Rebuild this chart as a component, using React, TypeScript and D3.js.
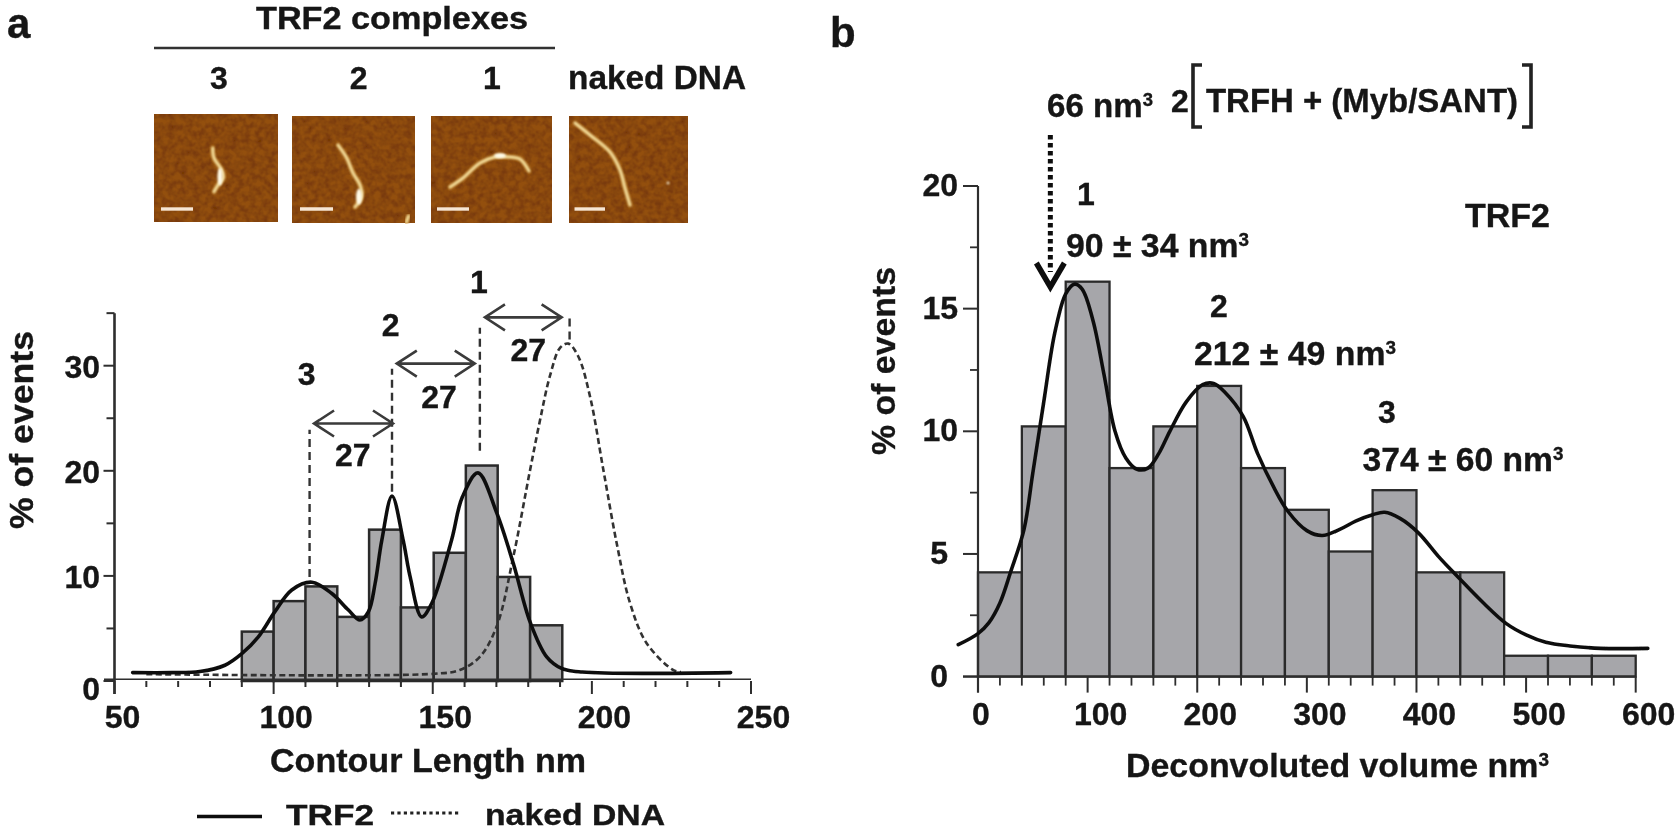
import React from "react";
import * as d3 from "d3";

// ---------- panel a data ----------
const aBinEdges = [60, 70, 80, 90, 100, 110, 120, 130, 140, 150.3, 160.4, 170.4, 180.6, 190.7, 200, 210, 220, 230, 240];
const aBinValues = [0, 0, 0, 4.7, 7.6, 9, 6.1, 14.4, 7, 12.2, 20.5, 9.9, 5.3, 0, 0, 0, 0, 0];
const aTrf2Curve: [number, number][] = [
  [55.7, 0.8], [68, 0.8], [76.8, 0.9], [84.7, 1.5], [90, 2.6], [95.2, 4.2], [100.4, 6.6], [105.7, 8.66], [112, 9.4],
  [118.2, 8.35], [123.5, 6.75], [127.1, 5.8], [129.8, 6.6], [131.9, 9.3], [134, 13.4], [137.2, 17.6], [140.7, 13.4],
  [142.9, 9.9], [146.5, 6.1], [149.7, 7.4], [155.9, 13.4], [159.3, 17.5], [164.2, 19.8], [170.1, 16], [175.3, 11.2],
  [180.6, 5.6], [185.8, 2.3], [190.5, 1.2], [197, 0.85], [243.6, 0.8],
];
const aNakedCurve: [number, number][] = [
  [60, 0.65], [150, 0.68], [158.5, 1.05], [164.8, 2.3], [170.1, 5.2], [175.3, 11.8], [180.6, 20.1], [183.7, 24.8],
  [186.8, 29], [190, 31.7], [192.6, 32.1], [195.7, 30.9], [199.4, 27.1], [203.6, 20.1], [207.8, 13.1], [212, 7.4],
  [217.2, 3.6], [225.5, 1.05], [228, 0.85],
];
const aXMajor = [50, 100, 150, 200, 250];
const aXMinor = [60, 70, 80, 90, 110, 120, 130, 140, 160, 170, 180, 190, 210, 220, 230, 240];
const aYMajor = [0, 10, 20, 30];
const aYMinor = [5, 15, 25, 35];
const aDrops: [number, number, number][] = [[111.3, 9.9, 23.9], [137.2, 18, 29.7], [164.8, 21.9, 33.6], [193, 32.5, 34.6]];
const aSpans: [number, number, number][] = [[112.7, 137.5, 24.5], [138.7, 163.2, 30.2], [166.4, 190.5, 34.6]];
const aSpanLabels: [number, number][] = [[124.9, 20.5], [152, 26], [180, 30.4]];
const aPeakLabels: [string, number, number][] = [["3", 110.4, 28.2], ["2", 136.8, 32.8], ["1", 164.5, 36.9]];

// ---------- panel b data ----------
const bBinEdges = [0, 40, 80, 120, 160, 200, 240, 280, 320, 360, 400, 440, 480, 520, 560, 600];
const bBinValues = [4.25, 10.2, 16.1, 8.5, 10.2, 11.85, 8.5, 6.8, 5.1, 7.6, 4.25, 4.25, 0.85, 0.85, 0.85];
const bCurve: [number, number][] = [
  [-18, 1.3], [0, 1.75], [10, 2.2], [20, 3], [30, 4.3], [42, 6], [50, 8.3], [60, 11.2], [70, 14], [80, 15.6], [88, 16],
  [95, 15.8], [105, 14.5], [115, 12.3], [125, 10], [135, 8.9], [145, 8.45], [155, 8.5], [165, 9.1], [175, 10], [190, 11.2],
  [205, 11.9], [215, 11.95], [225, 11.6], [242, 10.6], [255, 9.1], [270, 7.7], [282.5, 6.75], [300, 5.95], [314, 5.75], [330, 6],
  [345, 6.35], [360, 6.6], [371, 6.7], [385, 6.45], [402, 5.85], [420, 4.9], [437, 4.1], [460, 3.05], [482, 2.16],
  [500, 1.7], [518, 1.4], [540, 1.25], [568, 1.15], [611, 1.15],
];
const bXMajor = [0, 100, 200, 300, 400, 500, 600];
const bXMinor = [20, 40, 60, 80, 120, 140, 160, 180, 220, 240, 260, 280, 320, 340, 360, 380, 420, 440, 460, 480, 520, 540, 560, 580];
const bYMajor = [0, 5, 10, 15, 20];
const bYMinor = [2.5, 7.5, 12.5, 17.5];

// ---------- AFM thumbnails ----------
const thumbBoxes = [[154, 114, 124, 108], [292, 116, 123, 107], [431, 116, 121, 107], [569, 116, 119, 107]];
const thumbBars = [[161, 193], [300, 333], [437, 469], [574.5, 605]];
const strands: [number, number][][] = [
  [[212.7, 148], [214, 158], [221.7, 170], [223.3, 178], [218, 185], [214, 191.7]],
  [[338, 145], [346.7, 158], [353, 173], [360, 185], [361.7, 196.7], [355, 207]],
  [[450, 187], [463, 178], [480, 163], [495, 157], [510, 157], [520, 159], [529, 171]],
  [[575, 123], [590, 135], [610, 152], [620, 170], [625, 188], [630, 205]],
  [[408.5, 216], [406.5, 222]],
];
const blobs = [[220, 176.7, 2.6, 9], [359, 196.7, 3, 8], [500, 155.7, 6, 2.6], [668, 183, 1.3, 1.3]];

const xA = d3.scaleLinear().domain([50, 250]).range([114.5, 751]);
const yA = d3.scaleLinear().domain([0, 30]).range([681, 365.7]);
const xB = d3.scaleLinear().domain([0, 600]).range([978, 1635.7]);
const yB = d3.scaleLinear().domain([0, 20]).range([676.6, 186]);

const lineA = d3.line<[number, number]>().x((d) => xA(d[0])).y((d) => yA(d[1])).curve(d3.curveCatmullRom.alpha(0.5));
const lineB = d3.line<[number, number]>().x((d) => xB(d[0])).y((d) => yB(d[1])).curve(d3.curveCatmullRom.alpha(0.5));
const strandLine = d3.line().curve(d3.curveCatmullRom.alpha(0.5));

const INK = "#141414";
const AXIS = "#2e2e2e";
const FONT = "'Liberation Sans', Arial, sans-serif";

function T(p: { x: number; y: number; s?: number; a?: string; w?: number; children: any; rot?: number }) {
  const { x, y, a = "middle", w, children, rot } = p;
  const s = p.s ?? (w ? 34 : 32);
  return (
    <text
      x={x}
      y={y}
      fontSize={s}
      fontWeight={700}
      fontFamily={FONT}
      fill={INK}
      stroke={INK}
      strokeWidth={0.35}
      textAnchor={a}
      textLength={w}
      lengthAdjust={w ? "spacingAndGlyphs" : undefined}
      transform={rot ? `rotate(${rot} ${x} ${y})` : undefined}
    >
      {children}
    </text>
  );
}

function Sup({ children }: { children: string }) {
  return (
    <tspan fontSize={19} dy={-11}>
      {children}
    </tspan>
  );
}

function DoubleArrow({ x1, x2, y }: { x1: number; x2: number; y: number }) {
  const h = 13;
  const d = 20;
  return (
    <path
      d={`M${x1},${y}H${x2}M${x1 + d},${y - h}L${x1},${y}L${x1 + d},${y + h}M${x2 - d},${y - h}L${x2},${y}L${x2 - d},${y + h}`}
      fill="none"
      stroke="#3a3a3a"
      strokeWidth={2.6}
    />
  );
}

export default function App() {
  return (
    <svg
      width={1677}
      height={831}
      viewBox="0 0 1677 831"
      style={{ position: "fixed", left: 0, top: 0, display: "block", background: "#fff" }}
    >
      <defs>
        <filter id="soft" x="0" y="0" width="1677" height="831" filterUnits="userSpaceOnUse">
          <feGaussianBlur stdDeviation="0.6" />
        </filter>
        <filter id="afm" x="0%" y="0%" width="100%" height="100%" colorInterpolationFilters="sRGB">
          <feTurbulence type="fractalNoise" baseFrequency="0.16" numOctaves="2" seed="7" result="n" />
          <feColorMatrix in="n" type="matrix" values="0 0 0 0 0.38  0 0 0 0 0.15  0 0 0 0 0  1.1 0 0 0 -0.35" result="dark" />
          <feComposite in="dark" in2="SourceGraphic" operator="in" result="clip" />
          <feMerge>
            <feMergeNode in="SourceGraphic" />
            <feMergeNode in="clip" />
          </feMerge>
        </filter>
        <filter id="glow" x="-30%" y="-30%" width="160%" height="160%">
          <feGaussianBlur stdDeviation="0.9" />
        </filter>
      </defs>

      <g filter="url(#soft)">
        {/* panel letters */}
        <T x={7} y={38} s={42} a="start">a</T>
        <T x={830} y={47} s={42} a="start">b</T>

        {/* thumbnails header */}
        <T x={392} y={29} s={31} w={272}>TRF2 complexes</T>
        <line x1={154} x2={555} y1={48} y2={48} stroke="#333" strokeWidth={2.5} />
        <T x={219} y={89}>3</T>
        <T x={358.7} y={89}>2</T>
        <T x={492} y={89}>1</T>
        <T x={657} y={89} w={178}>naked DNA</T>

        {thumbBoxes.map((b, i) => (
          <rect key={i} x={b[0]} y={b[1]} width={b[2]} height={b[3]} fill="#93500f" filter="url(#afm)" />
        ))}
        {strands.map((s, i) => (
          <g key={i} filter="url(#glow)">
            <path d={strandLine(s) as string} fill="none" stroke="#c98a2a" strokeWidth={4.6} strokeLinecap="round" />
            <path d={strandLine(s) as string} fill="none" stroke="#f5e2a0" strokeWidth={2.4} strokeLinecap="round" />
          </g>
        ))}
        {blobs.map((b, i) => (
          <ellipse key={i} cx={b[0]} cy={b[1]} rx={b[2]} ry={b[3]} fill="#fffbe8" filter="url(#glow)" />
        ))}
        {thumbBars.map((b, i) => (
          <line key={i} x1={b[0]} x2={b[1]} y1={209} y2={209} stroke="#f6e6d4" strokeWidth={3.4} />
        ))}

        {/* ---------- panel a ---------- */}
        {aBinValues.map((v, i) => (
          <rect
            key={i}
            x={xA(aBinEdges[i])}
            y={yA(v)}
            width={xA(aBinEdges[i + 1]) - xA(aBinEdges[i])}
            height={yA(0) - yA(v)}
            fill="#a9a9ab"
            stroke="#2a2a2a"
            strokeWidth={2.5}
          />
        ))}
        <line x1={104} x2={xA(250)} y1={yA(0) - 1.7} y2={yA(0) - 1.7} stroke={AXIS} strokeWidth={1.6} />
        <line x1={xA(50)} x2={xA(50)} y1={yA(35)} y2={yA(0) + 13} stroke={AXIS} strokeWidth={2.6} />
        {aYMajor.map((v) => (
          <g key={v}>
            <line x1={xA(50) - 11} x2={xA(50)} y1={yA(v)} y2={yA(v)} stroke={AXIS} strokeWidth={2} />
            <T x={100} y={yA(v) + (v === 0 ? 19 : 12.5)} a="end">{v}</T>
          </g>
        ))}
        {aYMinor.map((v) => (
          <line key={v} x1={xA(50) - 8} x2={xA(50)} y1={yA(v)} y2={yA(v)} stroke={AXIS} strokeWidth={2} />
        ))}
        {aXMajor.map((v) => (
          <g key={v}>
            <line x1={xA(v)} x2={xA(v)} y1={yA(0)} y2={yA(0) + 13} stroke={AXIS} strokeWidth={2} />
            <T x={xA(v) + (v === 50 ? 8 : 12.5)} y={728}>{v}</T>
          </g>
        ))}
        {aXMinor.map((v) => (
          <line key={v} x1={xA(v)} x2={xA(v)} y1={yA(0)} y2={yA(0) + 6} stroke={AXIS} strokeWidth={2} />
        ))}
        <path d={lineA(aNakedCurve) as string} fill="none" stroke="#333" strokeWidth={2.6} strokeDasharray="6 3.5" />
        <path d={lineA(aTrf2Curve) as string} fill="none" stroke="#111" strokeWidth={3.6} strokeLinecap="round" />
        {aDrops.map((d, i) => (
          <line key={i} x1={xA(d[0])} x2={xA(d[0])} y1={yA(d[1])} y2={yA(d[2])} stroke="#333" strokeWidth={2.4} strokeDasharray="8 5" />
        ))}
        {aSpans.map((d, i) => (
          <DoubleArrow key={i} x1={xA(d[0])} x2={xA(d[1])} y={yA(d[2])} />
        ))}
        {aSpanLabels.map((d, i) => (
          <T key={i} x={xA(d[0])} y={yA(d[1])}>27</T>
        ))}
        {aPeakLabels.map((d) => (
          <T key={d[0]} x={xA(d[1])} y={yA(d[2])}>{d[0]}</T>
        ))}
        <T x={33} y={430} rot={-90} w={198}>% of events</T>
        <T x={428} y={772} w={316}>Contour Length nm</T>

        {/* legend */}
        <line x1={197} x2={262} y1={816.5} y2={816.5} stroke="#111" strokeWidth={3.6} />
        <T x={286} y={824.5} s={29} a="start" w={88}>TRF2</T>
        <line x1={391} x2={460} y1={813} y2={813} stroke="#222" strokeWidth={3.2} strokeDasharray="3.2 3.2" />
        <T x={485} y={824.5} s={29} a="start" w={180}>naked DNA</T>

        {/* ---------- panel b ---------- */}
        {bBinValues.map((v, i) => (
          <rect
            key={i}
            x={xB(bBinEdges[i])}
            y={yB(v)}
            width={xB(bBinEdges[i + 1]) - xB(bBinEdges[i])}
            height={yB(0) - yB(v)}
            fill="#a6a6aa"
            stroke="#2a2a2a"
            strokeWidth={2.3}
          />
        ))}
        <line x1={963} x2={xB(600)} y1={yB(0)} y2={yB(0)} stroke={AXIS} strokeWidth={2} />
        <line x1={xB(0)} x2={xB(0)} y1={yB(20)} y2={yB(0) + 16} stroke={AXIS} strokeWidth={2.2} />
        {bYMajor.map((v) => (
          <g key={v}>
            <line x1={963} x2={xB(0)} y1={yB(v)} y2={yB(v)} stroke={AXIS} strokeWidth={2} />
            <T x={v === 0 || v === 5 ? 948 : 958} y={yB(v) + 10} a="end">{v}</T>
          </g>
        ))}
        {bYMinor.map((v) => (
          <line key={v} x1={970} x2={xB(0)} y1={yB(v)} y2={yB(v)} stroke={AXIS} strokeWidth={1.8} />
        ))}
        {bXMajor.map((v) => (
          <g key={v}>
            <line x1={xB(v)} x2={xB(v)} y1={yB(0)} y2={yB(0) + 16} stroke={AXIS} strokeWidth={2} />
            <T x={xB(v) + (v === 0 ? 3 : 13)} y={725}>{v}</T>
          </g>
        ))}
        {bXMinor.map((v) => (
          <line key={v} x1={xB(v)} x2={xB(v)} y1={yB(0)} y2={yB(0) + 9} stroke={AXIS} strokeWidth={1.8} />
        ))}
        <path d={lineB(bCurve) as string} fill="none" stroke="#111" strokeWidth={3.6} strokeLinecap="round" />

        <T x={895} y={361} rot={-90} w={188}>% of events</T>
        <T x={1126} y={777} a="start" w={423}>
          Deconvoluted volume nm<Sup>3</Sup>
        </T>

        {/* annotations */}
        <T x={1047} y={117} a="start" w={106}>
          66 nm<Sup>3</Sup>
        </T>
        <T x={1171} y={112} a="start">2</T>
        <path d="M1202,65H1193V127H1202" fill="none" stroke="#222" strokeWidth={3.6} />
        <path d="M1522,65H1531V127H1522" fill="none" stroke="#222" strokeWidth={3.6} />
        <T x={1206} y={112} a="start" w={312}>TRFH + (Myb/SANT)</T>
        <line x1={xB(66)} x2={xB(66)} y1={135} y2={272} stroke="#111" strokeWidth={5} strokeDasharray="4.5 3.5" />
        <path d={`M${xB(66) - 14},263L${xB(66)},287L${xB(66) + 14},263`} fill="none" stroke="#111" strokeWidth={5.5} />
        <T x={1086} y={205}>1</T>
        <T x={1066} y={257} a="start" w={183}>
          90 ± 34 nm<Sup>3</Sup>
        </T>
        <T x={1219} y={317}>2</T>
        <T x={1194} y={365} a="start" w={202}>
          212 ± 49 nm<Sup>3</Sup>
        </T>
        <T x={1387} y={423}>3</T>
        <T x={1362.5} y={471} a="start" w={201}>
          374 ± 60 nm<Sup>3</Sup>
        </T>
        <T x={1465} y={227} a="start" w={85}>TRF2</T>
      </g>
    </svg>
  );
}
